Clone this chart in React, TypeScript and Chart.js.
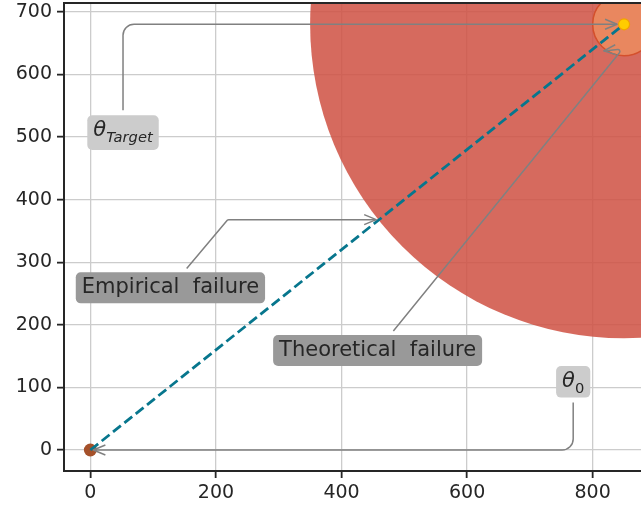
import React, { useEffect, useRef } from "react";
import { Chart, registerables } from "chart.js";

Chart.register(...registerables);

// ---------- data ----------
const xTicks = [0, 200, 400, 600, 800];
const yTicks = [0, 100, 200, 300, 400, 500, 600, 700];
const xRange = [-42, 877];
const yRange = [-33.5, 714];
const startPoint = { x: 0, y: 0 };
const targetPoint = { x: 850, y: 680 };
const outerRadius = 500;
const innerRadius = 50;
const empiricalFailure = { x: 460, y: 368 };
const theoreticalFailure = { x: 813, y: 637 };

type Piece = { t: string; italic?: boolean; sub?: boolean; math?: boolean };
type Ann = {
  pieces: Piece[];
  at: { x: number; y: number };
  corner: { x: number; y: number };
  to: { x: number; y: number };
  bg: string;
  radius: number;
  shrinkB: number;
};

const annotations: Ann[] = [
  {
    pieces: [
      { t: "θ", italic: true, math: true },
      { t: "Target", italic: true, sub: true, math: true },
    ],
    at: { x: 52, y: 507 },
    corner: { x: 52, y: 680 },
    to: targetPoint,
    bg: "#cccccc",
    radius: 11,
    shrinkB: 7,
  },
  {
    pieces: [
      { t: "θ", italic: true, math: true },
      { t: "0", sub: true, math: true },
    ],
    at: { x: 769, y: 109 },
    corner: { x: 769, y: 0 },
    to: startPoint,
    bg: "#cccccc",
    radius: 11,
    shrinkB: 3,
  },
  {
    pieces: [{ t: "Empirical  failure" }],
    at: { x: 127.5, y: 259 },
    corner: { x: 219, y: 368 },
    to: empiricalFailure,
    bg: "#999999",
    radius: 2,
    shrinkB: 3,
  },
  {
    pieces: [{ t: "Theoretical  failure" }],
    at: { x: 457.5, y: 159 },
    corner: { x: 847.5, y: 640.5 },
    to: theoreticalFailure,
    bg: "#999999",
    radius: 2,
    shrinkB: 3,
  },
];

// ---------- styles ----------
const FAMILY = "'DejaVu Sans', sans-serif";
const FS = 21;
const PADX = 6;
const PADY = 5;
const DARK = "#262626";
const ARROW = "#808080";

function layoutLabel(ctx: CanvasRenderingContext2D, pieces: Piece[]) {
  const items = pieces.map((p) => {
    const size = p.sub ? FS * 0.7 : FS;
    const font = `${p.italic ? "italic " : ""}${size}px ${FAMILY}`;
    ctx.font = font;
    const m = ctx.measureText(p.t);
    const dy = p.sub ? FS * 0.27 : 0;
    const asc = p.math ? m.actualBoundingBoxAscent : size * 0.76;
    const desc = p.math ? m.actualBoundingBoxDescent : size * 0.24;
    return { ...p, font, w: m.width, dy, top: dy - asc, bottom: dy + desc };
  });
  const W = items.reduce((s, i) => s + i.w, 0);
  const top = Math.min(...items.map((i) => i.top));
  const bottom = Math.max(...items.map((i) => i.bottom));
  return { items, W, top, bottom, bw: W + 2 * PADX, bh: bottom - top + 2 * PADY };
}

const annotationPlugin = {
  id: "annotationPlugin",
  afterDatasetsDraw(chart: any) {
    const ctx: CanvasRenderingContext2D = chart.ctx;
    const xs = chart.scales.x;
    const ys = chart.scales.y;
    const area = chart.chartArea;
    ctx.save();
    // top spine
    ctx.strokeStyle = DARK;
    ctx.lineWidth = 2;
    ctx.beginPath();
    ctx.moveTo(area.left - 1, area.top);
    ctx.lineTo(area.right, area.top);
    ctx.stroke();

    const layouts = annotations.map((a) => {
      const cx = xs.getPixelForValue(a.at.x);
      const cy = ys.getPixelForValue(a.at.y);
      const L = layoutLabel(ctx, a.pieces);
      return { a, cx, cy, L };
    });

    // arrows
    for (const { a, cx, cy, L } of layouts) {
      const kx = xs.getPixelForValue(a.corner.x);
      const ky = ys.getPixelForValue(a.corner.y);
      const tx = xs.getPixelForValue(a.to.x);
      const ty = ys.getPixelForValue(a.to.y);
      let dx = kx - cx, dy = ky - cy;
      let len = Math.hypot(dx, dy);
      const ux = dx / len, uy = dy / len;
      const hw = L.bw / 2, hh = L.bh / 2;
      const t = Math.min(
        Math.abs(ux) > 1e-6 ? hw / Math.abs(ux) : Infinity,
        Math.abs(uy) > 1e-6 ? hh / Math.abs(uy) : Infinity
      );
      const sx = cx + ux * (t + 5);
      const sy = cy + uy * (t + 5);
      dx = tx - kx; dy = ty - ky;
      len = Math.hypot(dx, dy);
      const vx = dx / len, vy = dy / len;
      const ex = tx - vx * a.shrinkB;
      const ey = ty - vy * a.shrinkB;

      ctx.strokeStyle = ARROW;
      ctx.lineWidth = 1.5;
      ctx.lineJoin = "round";
      ctx.lineCap = "butt";
      ctx.beginPath();
      ctx.moveTo(sx, sy);
      ctx.arcTo(kx, ky, ex, ey, a.radius);
      ctx.lineTo(ex, ey);
      ctx.stroke();
      const HL = 12, HW = 5;
      const nx = -vy, ny = vx;
      ctx.beginPath();
      ctx.moveTo(ex - vx * HL + nx * HW, ey - vy * HL + ny * HW);
      ctx.lineTo(ex, ey);
      ctx.lineTo(ex - vx * HL - nx * HW, ey - vy * HL - ny * HW);
      ctx.stroke();
    }

    for (const { a, cx, cy, L } of layouts) {
      const bx = cx - L.bw / 2;
      const by = cy - L.bh / 2;
      ctx.fillStyle = a.bg;
      ctx.beginPath();
      (ctx as any).roundRect(bx, by, L.bw, L.bh, 5);
      ctx.fill();
      const baseline = cy - (L.top + L.bottom) / 2;
      let x = cx - L.W / 2;
      ctx.fillStyle = DARK;
      ctx.textBaseline = "alphabetic";
      ctx.textAlign = "left";
      for (const it of L.items) {
        ctx.font = it.font;
        ctx.fillText(it.t, x, baseline + it.dy);
        x += it.w;
      }
    }
    ctx.restore();
  },
};

function pxRadius(chart: any, r: number) {
  const s = chart.scales && chart.scales.x;
  if (!s) return 0;
  return Math.abs(s.getPixelForValue(r) - s.getPixelForValue(0));
}

function zeroPad(axis: any) {
  axis.paddingLeft = 0;
  axis.paddingRight = 0;
  axis.paddingTop = 0;
  axis.paddingBottom = 0;
}

export default function App() {
  const ref = useRef<HTMLCanvasElement>(null);
  useEffect(() => {
    if (!ref.current) return;
    const tickFont = { family: FAMILY, size: 19 };
    const chart = new Chart(ref.current, {
      type: "scatter",
      data: {
        datasets: [
          {
            label: "target",
            data: [targetPoint],
            pointRadius: 5.5,
            backgroundColor: "#ffcc00",
            borderColor: "#f2a100",
            borderWidth: 1.2,
            clip: 0,
          } as any,
          {
            label: "path",
            data: [startPoint, targetPoint],
            showLine: true,
            pointRadius: 0,
            borderColor: "#07768d",
            borderWidth: 2.8,
            borderDash: [10, 4.5],
            clip: 0,
          } as any,
          {
            label: "start",
            data: [startPoint],
            pointRadius: 6.5,
            backgroundColor: "#a5512a",
            borderWidth: 0,
            clip: 0,
          } as any,
          {
            label: "inner",
            data: [targetPoint],
            pointRadius: (c: any) => pxRadius(c.chart, innerRadius),
            backgroundColor: "#e9875f",
            borderColor: "#d4502c",
            borderWidth: 1.5,
            clip: 0,
          } as any,
          {
            label: "outer",
            data: [targetPoint],
            pointRadius: (c: any) => pxRadius(c.chart, outerRadius),
            backgroundColor: "rgba(207,80,66,0.85)",
            borderWidth: 0,
            clip: 0,
          } as any,
        ],
      },
      options: {
        responsive: false,
        animation: false,
        devicePixelRatio: 1,
        events: [],
        layout: { autoPadding: false, padding: { top: 3, left: 0, right: 0, bottom: 0 } },
        plugins: {
          legend: { display: false },
          tooltip: { enabled: false },
          title: { display: false },
        },
        scales: {
          x: {
            type: "linear",
            min: xRange[0],
            max: xRange[1],
            afterBuildTicks: (axis: any) => {
              axis.ticks = xTicks.map((v) => ({ value: v }));
            },
            afterFit: (axis: any) => {
              axis.height = 37;
              zeroPad(axis);
            },
            ticks: {
              font: tickFont,
              color: DARK,
              padding: 4,
              maxRotation: 0,
              callback: (v: any) => String(v),
            },
            grid: {
              color: "#cccccc",
              lineWidth: 1.3,
              tickColor: DARK,
              tickLength: 7,
              tickWidth: 1.8,
            } as any,
            border: { display: true, color: DARK, width: 2 },
          },
          y: {
            type: "linear",
            min: yRange[0],
            max: yRange[1],
            afterBuildTicks: (axis: any) => {
              axis.ticks = yTicks.map((v) => ({ value: v }));
            },
            afterFit: (axis: any) => {
              axis.width = 64;
              zeroPad(axis);
            },
            ticks: {
              font: tickFont,
              color: DARK,
              padding: 5,
              callback: (v: any) => String(v),
            },
            grid: {
              color: "#cccccc",
              lineWidth: 1.3,
              tickColor: DARK,
              tickLength: 7,
              tickWidth: 1.8,
            } as any,
            border: { display: true, color: DARK, width: 2 },
          },
        },
      } as any,
      plugins: [annotationPlugin],
    });
    return () => chart.destroy();
  }, []);
  return (
    <div style={{ position: "fixed", left: 0, top: 0, width: 641, height: 508, background: "#fff" }}>
      <canvas ref={ref} width={641} height={508} style={{ display: "block" }} />
    </div>
  );
}
